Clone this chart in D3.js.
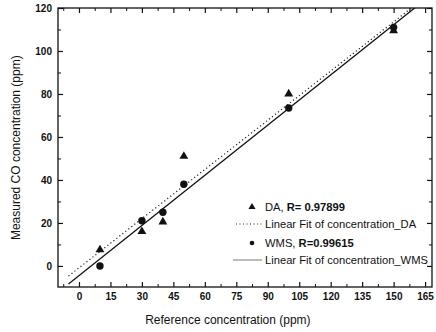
<!DOCTYPE html>
<html>
<head>
<meta charset="utf-8">
<script src="https://cdn.jsdelivr.net/npm/d3@7"></script>
<style>
  body { margin: 0; background: #fff; }
  text { font-family: "Liberation Sans", Arial, sans-serif; fill: #111; }
</style>
</head>
<body>
<div id="chart"></div>
<script>
// reference concentrations and the two measured series
const refConc = [10, 30, 40, 50, 100, 150];
const daValues = [7.5, 16, 20.5, 51, 80, 109.5];
const wmsValues = [0, 21, 25, 38, 73.5, 111];

// linear fit coefficients [slope, intercept]
const fitDA = [0.763, -0.9];
const fitWMS = [0.778, -4.5];
const fitRange = [-5, 170];

const xTicks = [0, 15, 30, 45, 60, 75, 90, 105, 120, 135, 150, 165];
const yTicks = [0, 20, 40, 60, 80, 100, 120];

const width = 436, height = 332;
const margin = { top: 8, right: 4, bottom: 45, left: 58 };

let svg = d3.select('#chart')
    .append('svg')
    .attr('width', width)
    .attr('height', height);

let xScale = d3.scaleLinear()
    .domain([-10, 168.3])
    .range([margin.left, width - margin.right]);

let yScale = d3.scaleLinear()
    .domain([-9.8, 120])
    .range([height - margin.bottom, margin.top]);

let plotW = width - margin.right - margin.left;
let plotH = height - margin.bottom - margin.top;

svg.append('clipPath')
    .attr('id', 'plot-clip')
    .append('rect')
    .attr('x', margin.left)
    .attr('y', margin.top)
    .attr('width', plotW)
    .attr('height', plotH);

//Axes: major ticks inward, minor ticks in between
function drawAxis(axisFn, scale, ticks, minorStep, transform, labels) {
    let minor = d3.range(scale.domain()[0], scale.domain()[1], minorStep)
        .map(v => Math.ceil(v / minorStep) * minorStep)
        .filter(v => !ticks.includes(v));
    svg.append('g')
        .attr('transform', transform)
        .call(axisFn(scale).tickValues(minor).tickSize(-3).tickFormat(''))
        .call(g => g.select('.domain').remove())
        .selectAll('line').attr('stroke', '#111');
    let g = svg.append('g')
        .attr('transform', transform)
        .call(axisFn(scale).tickValues(ticks).tickSize(-5).tickPadding(6)
            .tickFormat(labels ? d3.format('d') : ''));
    g.select('.domain').remove();
    g.selectAll('line').attr('stroke', '#111').attr('stroke-width', 1.2);
    g.selectAll('text')
        .attr('font-size', 10)
        .attr('font-weight', 'bold')
        .attr('font-family', '"Liberation Sans", Arial, sans-serif')
        .attr('fill', '#111');
    return g;
}

drawAxis(d3.axisBottom, xScale, xTicks, 7.5, `translate(0,${height - margin.bottom})`, true);
drawAxis(d3.axisTop, xScale, xTicks, 7.5, `translate(0,${margin.top})`, false);
drawAxis(d3.axisLeft, yScale, yTicks, 10, `translate(${margin.left},0)`, true);
drawAxis(d3.axisRight, yScale, yTicks, 10, `translate(${width - margin.right},0)`, false);

//Frame
svg.append('rect')
    .attr('x', margin.left)
    .attr('y', margin.top)
    .attr('width', plotW)
    .attr('height', plotH)
    .attr('fill', 'none')
    .attr('stroke', '#111')
    .attr('stroke-width', 1.3);

//Fit lines
let plot = svg.append('g').attr('clip-path', 'url(#plot-clip)');

let line = d3.line()
    .x(d => xScale(d[0]))
    .y(d => yScale(d[1]));

plot.append('path')
    .datum(fitRange.map(x => [x, fitDA[0] * x + fitDA[1]]))
    .attr('d', line)
    .attr('fill', 'none')
    .attr('stroke', '#222')
    .attr('stroke-width', 1.2)
    .attr('stroke-dasharray', '1.2,2.6');

plot.append('path')
    .datum(fitRange.map(x => [x, fitWMS[0] * x + fitWMS[1]]))
    .attr('d', line)
    .attr('fill', 'none')
    .attr('stroke', '#111')
    .attr('stroke-width', 1.3);

//Markers
let tri = d3.symbol().type(d3.symbolTriangle).size(34);

plot.selectAll('.da')
    .data(refConc.map((x, i) => [x, daValues[i]]))
    .join('path')
    .attr('class', 'da')
    .attr('d', tri)
    .attr('transform', d => `translate(${xScale(d[0])},${yScale(d[1])})`)
    .attr('fill', '#111');

plot.selectAll('.wms')
    .data(refConc.map((x, i) => [x, wmsValues[i]]))
    .join('circle')
    .attr('class', 'wms')
    .attr('cx', d => xScale(d[0]))
    .attr('cy', d => yScale(d[1]))
    .attr('r', 3.7)
    .attr('fill', '#111');

//Legend
let legend = svg.append('g').attr('font-size', 11.2);

legend.append('path')
    .attr('d', d3.symbol().type(d3.symbolTriangle).size(22))
    .attr('transform', 'translate(252,207)')
    .attr('fill', '#111');
let t1 = legend.append('text').attr('x', 265).attr('y', 211);
t1.append('tspan').text('DA, ');
t1.append('tspan').attr('font-weight', 'bold').text('R= 0.97899');

legend.append('line')
    .attr('x1', 236).attr('x2', 262)
    .attr('y1', 224).attr('y2', 224)
    .attr('stroke', '#222')
    .attr('stroke-dasharray', '1,2.5');
legend.append('text').attr('x', 265).attr('y', 228)
    .text('Linear Fit of concentration_DA');

legend.append('circle')
    .attr('cx', 252).attr('cy', 243).attr('r', 2.3)
    .attr('fill', '#111');
let t2 = legend.append('text').attr('x', 265).attr('y', 247);
t2.append('tspan').text('WMS, ');
t2.append('tspan').attr('font-weight', 'bold').text('R=0.99615');

legend.append('line')
    .attr('x1', 233).attr('x2', 262)
    .attr('y1', 260).attr('y2', 260)
    .attr('stroke', '#555')
    .attr('stroke-width', 0.8);
legend.append('text').attr('x', 265).attr('y', 264)
    .text('Linear Fit of concentration_WMS');

//Axis titles
svg.append('text')
    .attr('x', xScale(71))
    .attr('y', 324)
    .attr('text-anchor', 'middle')
    .attr('font-size', 12)
    .text('Reference concentration (ppm)');

svg.append('text')
    .attr('transform', `translate(20,${yScale(55)}) rotate(-90)`)
    .attr('text-anchor', 'middle')
    .attr('font-size', 12)
    .text('Measured CO concentration (ppm)');
</script>
</body>
</html>
